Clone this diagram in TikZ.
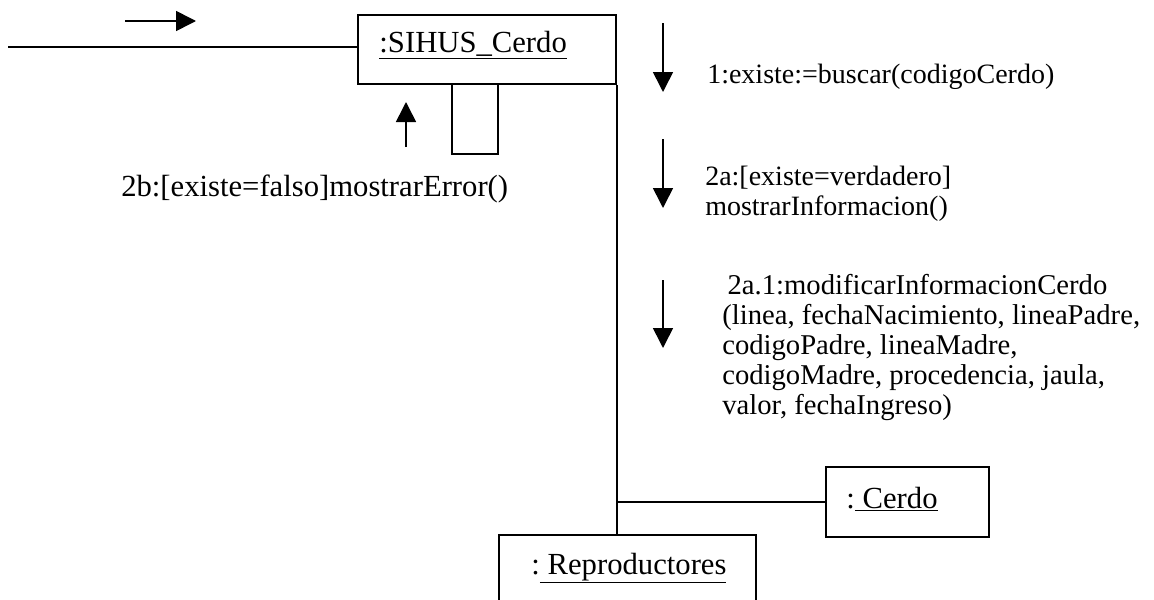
\documentclass[tikz,border=0pt]{standalone}
\usepackage{fontspec}
\setmainfont{Liberation Serif}
\usetikzlibrary{arrows.meta,calc,positioning}

\begin{document}
\begin{tikzpicture}[
  x=0.75pt,
  y=-0.75pt,
  >={Triangle[length=15pt,width=15pt]},
  objbox/.style={draw,line width=1.2pt,inner sep=0pt},
  objname/.style={anchor=base west,inner sep=0pt,font=\fontsize{23}{25}\selectfont},
  link/.style={line width=1.2pt},
  msg/.style={->,line width=1.2pt},
  msglabel/.style={inner sep=0pt,align=left,font=\fontsize{21}{22.5}\selectfont}
]
\useasboundingbox (0,0) rectangle (1154,600);

% Objects
\node[objbox,minimum width=258*0.75pt,minimum height=69*0.75pt] (sihus) at (487,49.5) {};
\node[objbox,minimum width=163*0.75pt,minimum height=70*0.75pt] (cerdo) at (907.5,502) {};
\node[objbox,minimum width=257*0.75pt,minimum height=80*0.75pt] (repro) at (627.5,575) {};

\node[objname] (sihusname) at ($(sihus.north west)+(22,38)$) {\underline{:SIHUS\_Cerdo}};
\node[objname] (cerdoname) at ($(cerdo.north west)+(21,42)$) {:\underline{ Cerdo}};
\node[objname] (reproname) at ($(repro.north west)+(33,40)$) {:\underline{ Reproductores}};

% Links
\coordinate (actor) at (8,47);
\draw[link] (actor) -- (actor -| sihus.west);
\draw[link] (sihus.south east) -- (sihus.south east |- repro.north);
\draw[link] (cerdo.west -| sihus.east) -- (cerdo.west);
\draw[link] ($(sihus.south west)+(95,0)$) -- ++(0,69) -- ++(46,0) -- ++(0,-69);

% Message arrows
\coordinate (inA) at (125,21);
\coordinate (inB) at (196,21);
\coordinate (errA) at (406,147);
\coordinate (errB) at (406,102);
\coordinate (oneA) at (663,23);
\coordinate (oneB) at (663,92);
\coordinate (twoA) at (663,139);
\coordinate (twoB) at (663,208);
\coordinate (thrA) at (663,280);
\coordinate (thrB) at (663,348);

\draw[msg] (inA) -- (inB);
\draw[msg] (errA) -- (errB);
\draw[msg] (oneA) -- (oneB);
\draw[msg] (twoA) -- (twoB);
\draw[msg] (thrA) -- (thrB);

% Message labels
\node[msglabel,anchor=base west,font=\fontsize{23}{25}\selectfont] (errlabel) at (121,196)
  {2b:[existe=falso]mostrarError()};

\node[msglabel,anchor=base west] (onelabel) at (707,83)
  {1:existe:=buscar(codigoCerdo)};

\node[msglabel,anchor=north west] (twolabel) at (705,166)
  {2a:[existe=verdadero]\\mostrarInformacion()};

\node[msglabel,anchor=north west,font=\fontsize{21.5}{22.5}\selectfont] (thrlabel) at (722,274)
  {\hspace*{4pt}2a.1:modificarInformacionCerdo\\
   (linea, fechaNacimiento, lineaPadre,\\
   codigoPadre, lineaMadre,\\
   codigoMadre, procedencia, jaula,\\
   valor, fechaIngreso)};
\end{tikzpicture}
\end{document}
